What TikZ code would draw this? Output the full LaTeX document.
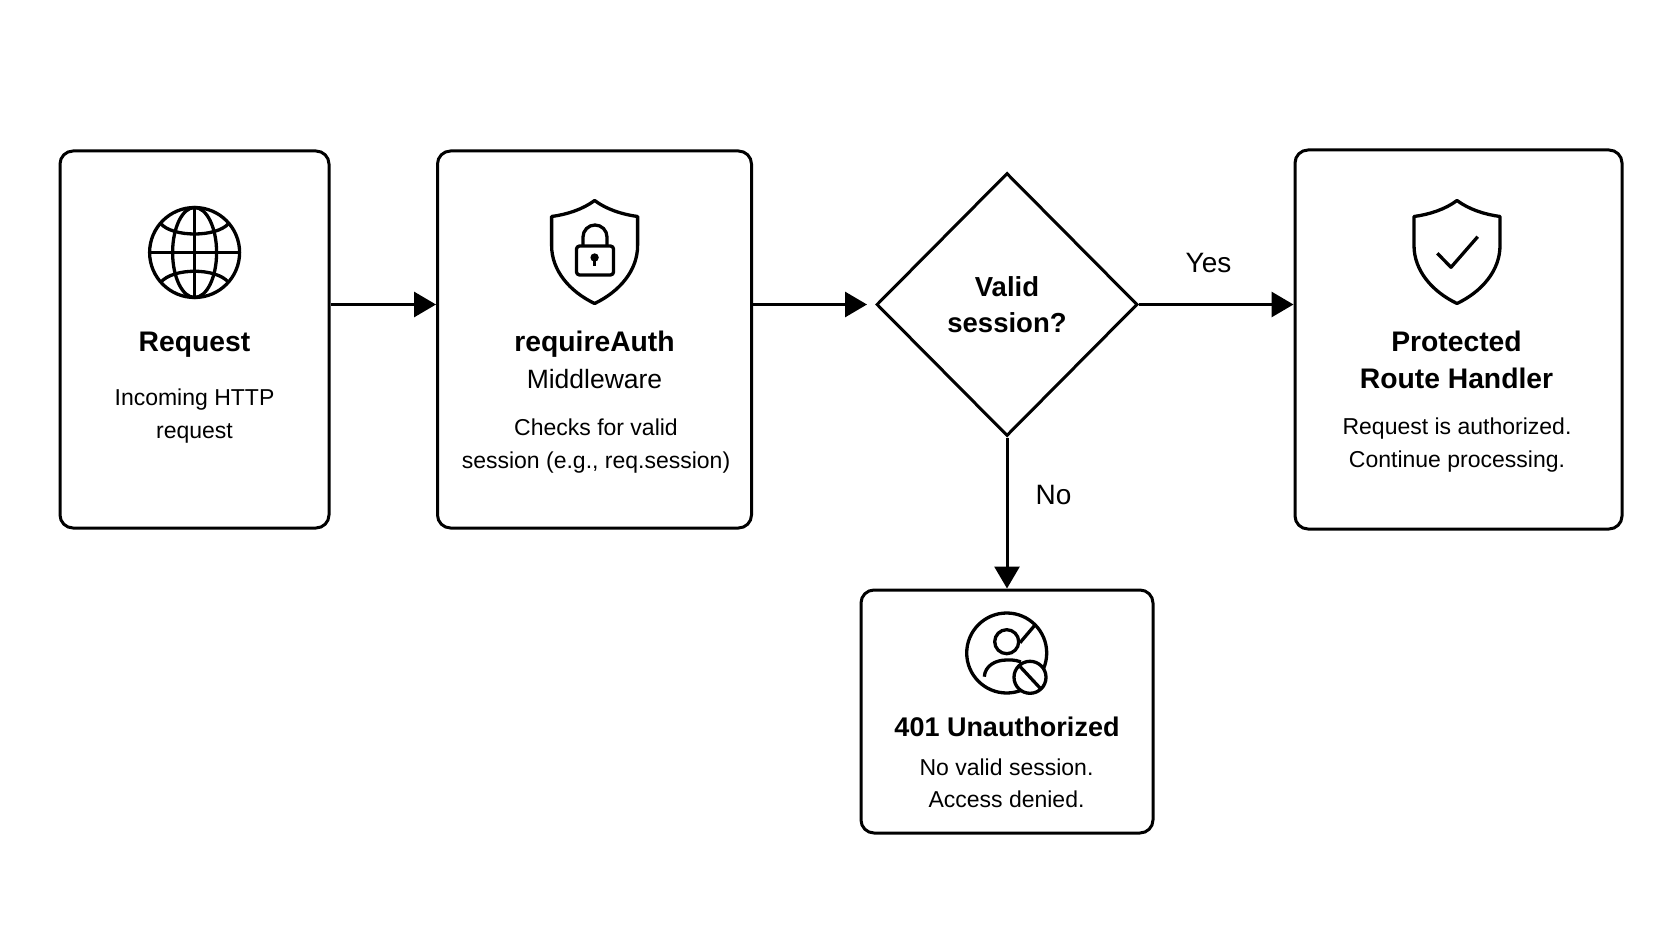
\documentclass[tikz,border=0pt]{standalone}
\usepackage{fontspec}
\setmainfont{Liberation Sans}
\usetikzlibrary{arrows.meta,shapes.geometric}

\tikzset{
    cardbox/.style={draw=black,line width=3pt,rounded corners=13pt,inner sep=0pt},
    flowarrow/.style={draw=black,line width=3pt,-{Triangle[length=22pt,width=25pt]}},
    titletext/.style={font=\fontsize{28.3}{37}\selectfont\bfseries,align=center,inner sep=0pt,anchor=base},
    bodytext/.style={font=\fontsize{23}{33}\selectfont,align=center,inner sep=0pt,anchor=base},
    flowlabel/.style={font=\fontsize{28}{32}\selectfont,inner sep=0pt},
    iconline/.style={draw=black,line width=3.3pt,line join=round},
    shieldicon/.pic={
        \draw[iconline] (0,0) .. controls (12,9) and (28,14) .. (43,16) -- (43,45)
            .. controls (43,70) and (25,91) .. (0,103)
            .. controls (-25,91) and (-43,70) .. (-43,45) -- (-43,16)
            .. controls (-28,14) and (-12,9) .. (0,0) -- cycle;
    }
}

\begin{document}
\begin{tikzpicture}[x=1pt,y=-1pt]
    \useasboundingbox (0,0) rectangle (1672,941);

    % boxes
    \node[cardbox,minimum width=269pt,minimum height=377pt] (request) at (194.5,339.5) {};
    \node[cardbox,minimum width=314pt,minimum height=377pt] (auth)    at (594.5,339.5) {};
    \node[cardbox,minimum width=327pt,minimum height=379pt] (handler) at (1458.5,339.5) {};
    \node[cardbox,minimum width=292pt,minimum height=243pt] (denied)  at (1007,711.5) {};
    \node[diamond,draw=black,line width=3pt,inner sep=0pt,aspect=1,minimum width=261pt,minimum height=263pt,
          font=\fontsize{27.5}{35.5}\selectfont\bfseries,align=center] (decision) at (1007,304.5) {Valid\\session?};

    % texts
    \node[titletext] (requesttitle) at (194.5,351) {Request};
    \node[bodytext]  (requestbody)  at (194.5,438) {Incoming HTTP\\request};
    \node[titletext] (authtitle)    at (594.5,351) {requireAuth};
    \node[bodytext,font=\fontsize{26.5}{32}\selectfont] (authsub) at (594.5,388) {Middleware};
    \node[bodytext]  (authbody)     at (596,468.5) {Checks for valid\\session (e.g., req.session)};
    \node[titletext] (handlertitle) at (1456.5,388.5) {Protected\\Route Handler};
    \node[bodytext]  (handlerbody)  at (1457,467.5) {Request is authorized.\\Continue processing.};
    \node[titletext,font=\fontsize{27}{36}\selectfont\bfseries] (deniedtitle) at (1007,736.5) {401 Unauthorized};
    \node[bodytext,font=\fontsize{23}{32}\selectfont] (deniedbody) at (1006.5,807) {No valid session.\\Access denied.};

    % connectors
    \draw[flowarrow] (request.east |- decision) -- (auth.west |- decision);
    \draw[flowarrow,shorten >=8pt] (auth.east |- decision) -- (decision.west);
    \draw[flowarrow] (decision.east) -- (handler.west |- decision);
    \draw[flowarrow] (decision.south) -- (denied.north);
    \node[flowlabel] (yeslabel) at (1208.5,263) {Yes};
    \node[flowlabel] (nolabel)  at (1053.5,495) {No};

    % globe
    \begin{scope}[shift={(194.6,252.5)}]
        \draw[iconline] (0,0) circle (45);
        \draw[iconline] (0,0) ellipse (22 and 45);
        \draw[iconline] (0,-45) -- (0,45);
        \draw[iconline] (-45,0) -- (45,0);
        \draw[iconline] (-34,-29) .. controls (-22,-15) and (22,-15) .. (34,-29);
        \draw[iconline] (-34,30) .. controls (-22,15) and (22,15) .. (34,30);
    \end{scope}

    % shield with lock
    \pic at (594.6,200.5) {shieldicon};
    \draw[iconline,rounded corners=3pt] (576.5,246) rectangle (613.5,275);
    \draw[iconline] (583,246) -- (583,237) arc[start angle=180,end angle=0,x radius=12,y radius=-12] -- (607,246);
    \fill[black] (594.6,257.5) circle (4.2);
    \draw[black,line width=3pt] (594.6,258) -- (594.6,266);

    % shield with check
    \pic at (1457,200.5) {shieldicon};
    \draw[iconline] (1437.3,253.3) -- (1451,267.3) -- (1477.7,236.7);

    % user icon
    \draw[iconline] (1006.7,653) circle (40);
    \draw[iconline] (1006.7,641.7) circle (12);
    \draw[iconline] (1020,642.7) -- (1035,625);
    \draw[iconline] (984.3,676.7) .. controls (985,666) and (995,660) .. (1006.7,660) -- (1012,660) .. controls (1015,660) and (1018,661) .. (1021,662);
    \draw[iconline,fill=white] (1030,677.3) circle (16);
    \draw[iconline] (1020,666.5) -- (1040,688);
\end{tikzpicture}
\end{document}
